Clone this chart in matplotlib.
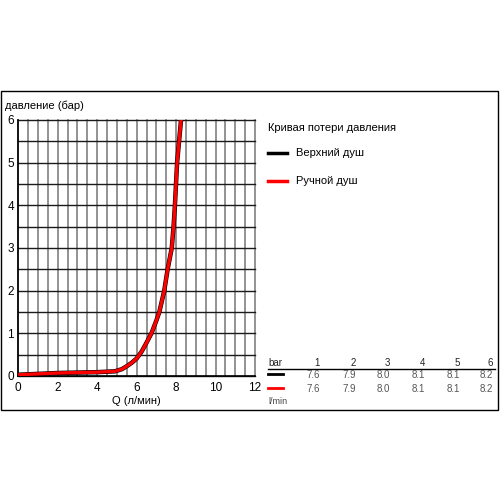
import matplotlib
matplotlib.use("Agg")
import matplotlib.pyplot as plt
from matplotlib.patches import Rectangle
from matplotlib.lines import Line2D

plt.rcParams['font.family'] = ['Liberation Sans', 'DejaVu Sans']

# pressure loss curve (Q in l/min, p in bar)
flow_q = [0, 1, 2, 3, 4, 4.9, 5.25, 5.5, 5.75, 6.0, 6.25, 6.5, 6.75, 7.0, 7.15,
          7.4, 7.57, 7.78, 7.87, 7.94, 8.05, 8.25]
pressure_p = [0.03, 0.05, 0.07, 0.08, 0.09, 0.11, 0.16, 0.23, 0.31, 0.41, 0.57, 0.78,
              1.0, 1.3, 1.5, 2.0, 2.5, 3.0, 3.5, 4.0, 5.0, 6.0]

# table on the right
table_bar = [1, 2, 3, 4, 5, 6]
table_top = ['7.6', '7.9', '8.0', '8.1', '8.1', '8.2']
table_hand = ['7.6', '7.9', '8.0', '8.1', '8.1', '8.2']

W = H = 500.0


def fx(x):
    return x / W


def fy(y):
    return 1 - y / H


fig = plt.figure(figsize=(5, 5), dpi=100)

# outer frame
fig.patches.append(Rectangle((fx(1), fy(410)), fx(497), (410 - 91) / H,
                             transform=fig.transFigure, fill=False,
                             edgecolor='black', linewidth=1))

ax = fig.add_axes([fx(18.3), fy(376), (255 - 18.3) / W, (376 - 120) / H])
ax.set_xlim(0, 12)
ax.set_ylim(0, 6)

# grid every 0.5
for i in range(25):
    ax.axvline(i * 0.5, color='#808080', lw=1.2, zorder=1, clip_on=False)
for i in range(13):
    ax.axhline(i * 0.5, color='#1a1a1a', lw=1.0, zorder=1, clip_on=False)

ax.plot(flow_q, pressure_p, color='black', lw=3.2, zorder=3,
        solid_capstyle='butt', solid_joinstyle='round')
ax.plot(flow_q, pressure_p, color='#ff0000', lw=2.4, zorder=4,
        solid_capstyle='butt', solid_joinstyle='round')

ax.set_xticks(range(0, 13, 2))
ax.set_yticks(range(0, 7))
ax.tick_params(length=0, labelsize=8.5, colors='black')
ax.tick_params(axis='x', pad=4)
ax.tick_params(axis='y', pad=3)
for s in ['top', 'right']:
    ax.spines[s].set_visible(False)
for s in ['left', 'bottom']:
    ax.spines[s].set_color('black')
    ax.spines[s].set_linewidth(1.2)

fig.text(fx(5), fy(106), 'давление (бар)', fontsize=8, va='center', ha='left')
fig.text(fx(136), fy(401), 'Q (л/мин)', fontsize=8, va='center', ha='center')

# legend area
fig.text(fx(268), fy(128), 'Кривая потери давления', fontsize=8, va='center')
fig.add_artist(Line2D([fx(268), fx(287)], [fy(153), fy(153)], color='black', lw=2.5))
fig.text(fx(296), fy(153), 'Верхний душ', fontsize=8, va='center')
fig.add_artist(Line2D([fx(268), fx(287)], [fy(181), fy(181)], color='#ff0000', lw=2.5))
fig.text(fx(296), fy(181), 'Ручной душ', fontsize=8, va='center')

# table
col_x = [320, 356, 390, 425, 460, 493]
fig.text(fx(268), fy(363), 'bar', fontsize=7, va='center', color='#222222')
for x, b in zip(col_x, table_bar):
    fig.text(fx(x), fy(363), str(b), fontsize=7, va='center', ha='right', color='#222222')
fig.add_artist(Line2D([fx(268), fx(495)], [fy(369), fy(369)], color='black', lw=1))
fig.add_artist(Line2D([fx(268), fx(283)], [fy(374), fy(374)], color='black', lw=2))
fig.add_artist(Line2D([fx(268), fx(283)], [fy(388), fy(388)], color='#ff0000', lw=2))
for x, v in zip(col_x, table_top):
    fig.text(fx(x), fy(375), v, fontsize=7, va='center', ha='right', color='#555555')
for x, v in zip(col_x, table_hand):
    fig.text(fx(x), fy(389), v, fontsize=7, va='center', ha='right', color='#555555')
fig.text(fx(268), fy(402), 'l/min', fontsize=6.5, va='center', color='#444444')

fig.savefig('out.png', dpi=100)
